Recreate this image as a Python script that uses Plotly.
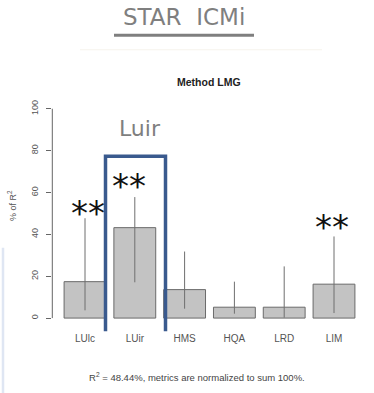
import plotly.graph_objects as go

categories = ["LUlc", "LUir", "HMS", "HQA", "LRD", "LIM"]
values = [17.4, 43.2, 13.6, 5.2, 5.2, 16.2]
ci_upper = [47.7, 57.8, 31.8, 17.4, 24.7, 39.0]
ci_lower = [3.7, 17.1, 4.5, 2.1, 0.2, 2.4]
y_ticks = [0, 20, 40, 60, 80, 100]
stars = ["LUlc", "LUir", "LIM"]

W, H = 374, 393
def px(x):
    return x / W
def py(y):
    return 1 - y / H

xpos = list(range(len(categories)))
err_plus = [u - v for u, v in zip(ci_upper, values)]
err_minus = [v - l for v, l in zip(values, ci_lower)]

fig = go.Figure()
fig.add_trace(go.Bar(
    x=xpos, y=values, width=0.84,
    marker=dict(color="#c3c3c3", line=dict(color="#6a6a6a", width=1)),
    error_y=dict(type="data", symmetric=False, array=err_plus, arrayminus=err_minus,
                 color="#6f6f6f", thickness=1, width=0),
    showlegend=False, hoverinfo="skip",
))

# domain in pixels
x0p, x1p = 52.3, 365
y_top_p, y_bot_p = 100, 331
pitch = 49.8
c0 = 85
y0p = 317.7
scale = 2.104

fig.update_layout(
    width=W, height=H,
    margin=dict(l=0, r=0, t=0, b=0),
    paper_bgcolor="white", plot_bgcolor="white",
    xaxis=dict(domain=[px(x0p), px(x1p)],
               range=[(x0p - c0) / pitch, (x1p - c0) / pitch],
               tickmode="array", tickvals=xpos, ticktext=categories,
               showgrid=False, zeroline=False, showline=False, ticks="",
               tickfont=dict(family="Liberation Sans, Arial", size=10, color="#555")),
    yaxis=dict(domain=[py(y_bot_p), py(y_top_p)],
               range=[-(y_bot_p - y0p) / scale, (y0p - y_top_p) / scale],
               tickmode="array", tickvals=y_ticks, ticktext=[str(t) for t in y_ticks],
               tickangle=-90, ticks="outside", ticklen=5, tickcolor="#666", tickwidth=1,
               ticklabelstandoff=5,
               showgrid=False, zeroline=False, showline=False,
               tickfont=dict(family="Liberation Sans, Arial", size=9, color="#555")),
    font=dict(family="Liberation Sans, Arial"),
)

# R-style y axis line spanning 0..100 only
fig.add_shape(type="line", xref="paper", yref="y", x0=px(x0p), x1=px(x0p),
              y0=y_ticks[0], y1=y_ticks[-1], line=dict(color="#666", width=1))

# highlight box around LUir
fig.add_shape(type="rect", xref="x", yref="y",
              x0=(105.5 - c0) / pitch, x1=(165.5 - c0) / pitch,
              y0=-(336.5 - y0p) / scale, y1=(y0p - 155) / scale,
              line=dict(color="#3a5a8e", width=3.5), layer="above")

def note(text, x, y, size, color, family="Liberation Sans, Arial", angle=0):
    fig.add_annotation(text=text, xref="paper", yref="paper", x=px(x), y=py(y),
                       xanchor="center", yanchor="middle", textangle=angle,
                       showarrow=False, font=dict(family=family, size=size, color=color))

# slide title and underline
note("STAR  ICMi", 184, 15.5, 23, "#7f7f7f", family="DejaVu Sans")
fig.add_shape(type="line", xref="paper", yref="paper", x0=px(114), x1=px(254),
              y0=py(33.5), y1=py(33.5), line=dict(color="#7f7f7f", width=3))
fig.add_shape(type="line", xref="paper", yref="paper", x0=px(80), x1=px(322),
              y0=py(48), y1=py(48), line=dict(color="#f6f3ec", width=1))

# left slide edge
fig.add_shape(type="line", xref="paper", yref="paper", x0=px(3), x1=px(3),
              y0=py(247), y1=0, line=dict(color="#dfe6f3", width=2.5))

note("<b>Method LMG</b>", 209, 80, 10.5, "#222")
note("Luir", 139.5, 127.5, 22, "#7f7f7f", family="DejaVu Sans")
note("% of R<sup>2</sup>", 12, 205, 9, "#555", angle=-90)
note("R<sup>2</sup> = 48.44%, metrics are normalized to sum 100%.", 196.5, 377, 9.5, "#444")

star_pos = {"LUlc": (88, 212), "LUir": (129, 185), "LIM": (332, 226)}
for s in stars:
    sx, sy = star_pos[s]
    note("**", sx, sy, 34, "#111", family="DejaVu Sans")

fig.write_html("out.html")
